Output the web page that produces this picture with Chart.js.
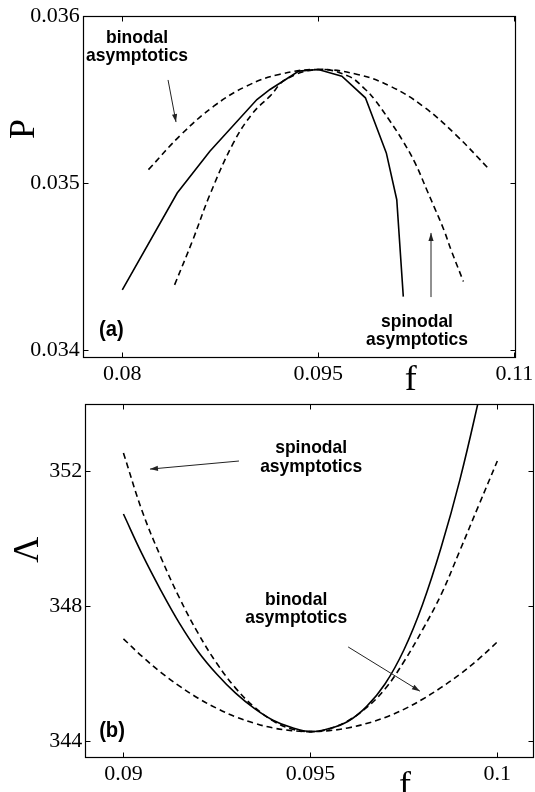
<!DOCTYPE html>
<html><head><meta charset="utf-8">
<script src="https://cdn.jsdelivr.net/npm/chart.js@4.4.1/dist/chart.umd.min.js"></script>
<style>
html,body{margin:0;padding:0;background:#fff;}
#wrap{position:relative;width:535px;height:792px;overflow:hidden;background:#fff;}
.box{position:absolute;left:0;width:535px;height:400px;}
#b1{top:0}
#b2{top:392px}
</style></head><body>
<div id="wrap">
<div class="box" id="b1"><canvas id="c1"></canvas></div>
<div class="box" id="b2"><canvas id="c2"></canvas></div>
</div>
<script>
// ---------- Panel (a): P vs f ----------
const aXTicks = [0.08, 0.095, 0.11];
const aXTickLabels = ['0.08', '0.095', '0.11'];
const aYTicks = [0.034, 0.035, 0.036];
const aYTickLabels = ['0.034', '0.035', '0.036'];

const aSolidF = [0.0800, 0.0842, 0.0867, 0.0903, 0.0913, 0.0925, 0.0935, 0.0950, 0.0968, 0.0986, 0.1002, 0.1010, 0.1015];
const aSolidP = [0.03436, 0.03494, 0.03519, 0.03550, 0.03556, 0.03562, 0.03567, 0.03568, 0.03564, 0.03551, 0.03518, 0.03490, 0.03432];

const aBinodalF = [0.0820, 0.0845, 0.0870, 0.0895, 0.0920, 0.0950, 0.0980, 0.1005, 0.1030, 0.1055, 0.1081];
const aBinodalP = [0.03508, 0.03529, 0.03546, 0.03558, 0.03565, 0.03568, 0.03565, 0.03558, 0.03546, 0.03529, 0.03508];

const aSpinodalF = [0.0840, 0.0854, 0.0867, 0.0885, 0.0900, 0.0913, 0.0925, 0.0950, 0.0973, 0.0986, 0.0993, 0.1004, 0.1014, 0.1024, 0.1034, 0.1039, 0.1046, 0.1052, 0.1061];
const aSpinodalP = [0.03439, 0.03466, 0.03493, 0.03524, 0.03542, 0.03552, 0.03562, 0.03568, 0.03564, 0.03556, 0.03550, 0.03538, 0.03526, 0.03512, 0.03494, 0.03485, 0.03472, 0.03459, 0.03441];

// ---------- Panel (b): Lambda vs f ----------
const bXTicks = [0.09, 0.095, 0.1];
const bXTickLabels = ['0.09', '0.095', '0.1'];
const bYTicks = [344, 348, 352];
const bYTickLabels = ['344', '348', '352'];

const bSolidF = [0.0900, 0.0905, 0.0910, 0.0915, 0.0920, 0.0925, 0.0930, 0.0935, 0.0940, 0.0945, 0.0950, 0.0955, 0.0960, 0.0965, 0.0970, 0.0975, 0.0980, 0.0985, 0.0990, 0.0995, 0.1000];
const bSolidL = [350.73, 349.54, 348.47, 347.49, 346.65, 345.98, 345.42, 344.97, 344.62, 344.40, 344.28, 344.37, 344.58, 345.02, 345.70, 346.70, 348.05, 349.75, 351.75, 354.10, 356.60];

const bSpinodalF = [0.0900, 0.0905, 0.0910, 0.0915, 0.0920, 0.0925, 0.0930, 0.0935, 0.0940, 0.0945, 0.0950, 0.0955, 0.0960, 0.0965, 0.0970, 0.0975, 0.0980, 0.0985, 0.0990, 0.0995, 0.1000];
const bSpinodalL = [352.54, 350.82, 349.45, 348.24, 347.19, 346.30, 345.57, 345.01, 344.60, 344.36, 344.28, 344.36, 344.60, 344.99, 345.55, 346.35, 347.30, 348.35, 349.65, 350.98, 352.30];

const bBinodalF = [0.0900, 0.0905, 0.0910, 0.0915, 0.0920, 0.0925, 0.0930, 0.0935, 0.0940, 0.0945, 0.0950, 0.0955, 0.0960, 0.0965, 0.0970, 0.0975, 0.0980, 0.0985, 0.0990, 0.0995, 0.1000];
const bBinodalL = [347.03, 346.51, 346.04, 345.63, 345.27, 344.97, 344.72, 344.53, 344.39, 344.31, 344.28, 344.31, 344.39, 344.52, 344.70, 344.94, 345.24, 345.59, 345.98, 346.43, 346.94];

const pts = (xs, ys) => xs.map((v, i) => ({x: v, y: ys[i]}));

const frame = {
  id: 'frame',
  afterDatasetsDraw(chart, args, o) {
    const {ctx, chartArea: a, scales: {x, y}} = chart;
    ctx.save();
    ctx.strokeStyle = '#000';
    ctx.lineWidth = 1.2;
    const L = Math.round(a.left) + 0.5, R = Math.round(a.right) - 0.5;
    const T = Math.round(a.top) + 0.5, B = Math.round(a.bottom) - 0.5;
    ctx.strokeRect(L, T, R - L, B - T);
    ctx.lineWidth = 1;
    ctx.beginPath();
    o.xTicks.forEach(v => {
      const px = Math.round(x.getPixelForValue(v)) + 0.5;
      ctx.moveTo(px, B); ctx.lineTo(px, B - 5);
      ctx.moveTo(px, T); ctx.lineTo(px, T + 5);
    });
    o.yTicks.forEach(v => {
      const py = Math.round(y.getPixelForValue(v)) + 0.5;
      ctx.moveTo(L, py); ctx.lineTo(L + 5, py);
      ctx.moveTo(R, py); ctx.lineTo(R - 5, py);
    });
    ctx.stroke();

    // arrows
    o.arrows.forEach(ar => {
      const x0 = x.getPixelForValue(ar.from[0]), y0 = y.getPixelForValue(ar.from[1]);
      const x1 = x.getPixelForValue(ar.to[0]), y1 = y.getPixelForValue(ar.to[1]);
      ctx.strokeStyle = '#222'; ctx.fillStyle = '#222'; ctx.lineWidth = 1;
      ctx.beginPath(); ctx.moveTo(x0, y0); ctx.lineTo(x1, y1); ctx.stroke();
      const ang = Math.atan2(y1 - y0, x1 - x0), hl = 8, hw = 2.6;
      ctx.beginPath();
      ctx.moveTo(x1, y1);
      ctx.lineTo(x1 - hl * Math.cos(ang) + hw * Math.sin(ang), y1 - hl * Math.sin(ang) - hw * Math.cos(ang));
      ctx.lineTo(x1 - hl * Math.cos(ang) - hw * Math.sin(ang), y1 - hl * Math.sin(ang) + hw * Math.cos(ang));
      ctx.closePath(); ctx.fill();
    });

    // annotation texts (bold sans, slightly condensed)
    ctx.fillStyle = '#000';
    ctx.textBaseline = 'alphabetic';
    o.texts.forEach(t => {
      ctx.font = 'bold ' + t.size + 'px "Liberation Sans", Arial, sans-serif';
      ctx.textAlign = t.align;
      const px = x.getPixelForValue(t.x), py = y.getPixelForValue(t.y);
      t.lines.forEach((ln, i) => {
        ctx.save();
        ctx.translate(px, py + i * t.dy);
        ctx.scale(0.92, 1);
        ctx.fillText(ln, 0, 0);
        ctx.restore();
      });
    });

    // axis titles
    ctx.font = '36px "Liberation Serif", "Times New Roman", serif';
    ctx.textAlign = 'center';
    ctx.textBaseline = 'alphabetic';
    ctx.fillText(o.xTitle.text, x.getPixelForValue(o.xTitle.at), a.bottom + o.xTitle.off);
    ctx.save();
    ctx.translate(a.left - o.yTitle.off, y.getPixelForValue(o.yTitle.at));
    ctx.rotate(-Math.PI / 2);
    ctx.textBaseline = 'middle';
    ctx.fillText(o.yTitle.text, 0, 0);
    ctx.restore();
    ctx.restore();
  }
};

function makeChart(id, cfg) {
  const tickFont = {family: '"Liberation Serif", "Times New Roman", serif', size: 22};
  const line = (data, dashed) => ({
    data, showLine: true, pointRadius: 0, borderColor: '#000', backgroundColor: '#000',
    borderWidth: 1.6, borderDash: dashed ? [6, 4] : [], tension: cfg.tension(dashed), fill: false
  });
  return new Chart(document.getElementById(id), {
    type: 'scatter',
    data: {datasets: [line(cfg.solid, false), line(cfg.bin, true), line(cfg.spin, true)]},
    options: {
      responsive: true, maintainAspectRatio: false, animation: false,
      layout: {padding: cfg.padding},
      plugins: {legend: {display: false}, tooltip: {enabled: false}, frame: cfg.frame},
      scales: {
        x: {
          type: 'linear', min: cfg.xMin, max: cfg.xMax,
          afterBuildTicks: s => { s.ticks = cfg.xTicks.map(v => ({value: v})); },
          ticks: {callback: (v, i) => cfg.xLabels[i], font: tickFont, color: '#000', padding: 3, maxRotation: 0, autoSkip: false},
          grid: {display: false, drawTicks: false}, border: {display: false},
          afterFit: s => { s.height = cfg.xH; s.paddingLeft = 0; s.paddingRight = 0; }
        },
        y: {
          type: 'linear', min: cfg.yMin, max: cfg.yMax,
          afterBuildTicks: s => { s.ticks = cfg.yTicks.map(v => ({value: v})); },
          ticks: {callback: (v, i) => cfg.yLabels[i], font: tickFont, color: '#000', padding: 3, autoSkip: false},
          grid: {display: false, drawTicks: false}, border: {display: false},
          afterFit: s => { s.width = cfg.yW; s.paddingTop = 0; s.paddingBottom = 0; }
        }
      }
    },
    plugins: [frame]
  });
}

makeChart('c1', {
  solid: pts(aSolidF, aSolidP), bin: pts(aBinodalF, aBinodalP), spin: pts(aSpinodalF, aSpinodalP),
  tension: d => d ? 0.4 : 0,
  padding: {top: 16, right: 19.3, left: 0, bottom: 0},
  xMin: 0.07697, xMax: 0.1101, yMin: 0.033954, yMax: 0.036,
  xTicks: aXTicks, xLabels: aXTickLabels, yTicks: aYTicks, yLabels: aYTickLabels,
  xH: 42.3, yW: 82.7,
  frame: {
    xTicks: aXTicks, yTicks: aYTicks,
    arrows: [
      {from: [0.08350, 0.035617], to: [0.08411, 0.035365]},
      {from: [0.10362, 0.034317], to: [0.10362, 0.034701]}
    ],
    texts: [
      {lines: ['binodal', 'asymptotics'], x: 0.08113, y: 0.035838, dy: 18, size: 19, align: 'center'},
      {lines: ['spinodal', 'asymptotics'], x: 0.10255, y: 0.034138, dy: 18, size: 19, align: 'center'},
      {lines: ['(a)'], x: 0.07822, y: 0.034084, dy: 0, size: 22, align: 'left'}
    ],
    xTitle: {text: 'f', at: 0.10206, off: 32},
    yTitle: {text: 'P', at: 0.035323, off: 58}
  }
});

makeChart('c2', {
  solid: pts(bSolidF, bSolidL), bin: pts(bBinodalF, bBinodalL), spin: pts(bSpinodalF, bSpinodalL),
  tension: d => 0.4,
  padding: {top: 12, right: 0.7, left: 0, bottom: 0},
  xMin: 0.08898, xMax: 0.100989, yMin: 343.49, yMax: 353.99,
  xTicks: bXTicks, xLabels: bXTickLabels, yTicks: bYTicks, yLabels: bYTickLabels,
  xH: 33.7, yW: 85.3,
  frame: {
    xTicks: bXTicks, yTicks: bYTicks,
    arrows: [
      {from: [0.09309, 352.30], to: [0.09071, 352.06]},
      {from: [0.09601, 346.79], to: [0.09793, 345.48]}
    ],
    texts: [
      {lines: ['spinodal', 'asymptotics'], x: 0.09502, y: 352.53, dy: 19, size: 19, align: 'center'},
      {lines: ['binodal', 'asymptotics'], x: 0.09462, y: 348.03, dy: 18, size: 19, align: 'center'},
      {lines: ['(b)'], x: 0.08935, y: 344.12, dy: 0, size: 22, align: 'left'}
    ],
    xTitle: {text: 'f', at: 0.09753, off: 38},
    yTitle: {text: 'Λ', at: 349.67, off: 57}
  }
});
</script>
</body></html>
